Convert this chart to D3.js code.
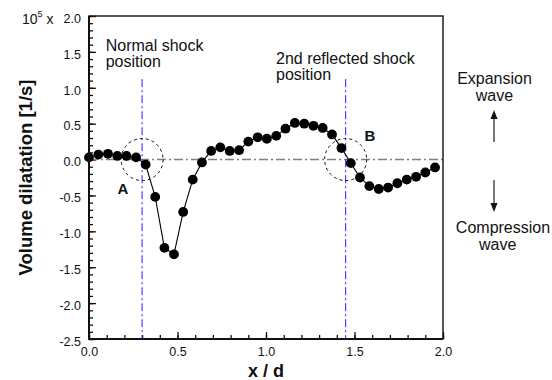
<!DOCTYPE html>
<html>
<head>
<meta charset="utf-8">
<script src="https://cdn.jsdelivr.net/npm/d3@7"></script>
<style>
body { margin: 0; background: #fff; }
text { font-family: "Liberation Sans", Arial, sans-serif; fill: #111; }
</style>
</head>
<body>
<div id="chart"></div>
<script>
// x / d positions of the samples
var xPos = [0.00, 0.053, 0.107, 0.16, 0.212, 0.266, 0.32, 0.374, 0.426, 0.48,
            0.532, 0.586, 0.638, 0.69, 0.742, 0.795, 0.848, 0.90, 0.953, 1.005,
            1.058, 1.11, 1.163, 1.216, 1.268, 1.32, 1.373, 1.426, 1.479, 1.531,
            1.584, 1.637, 1.69, 1.742, 1.795, 1.848, 1.90, 1.955];
// volume dilatation, units of 10^5 1/s
var dilatation = [0.03, 0.07, 0.08, 0.05, 0.05, 0.03, -0.07, -0.52, -1.23, -1.32,
                  -0.73, -0.28, -0.04, 0.12, 0.17, 0.12, 0.13, 0.25, 0.31, 0.29,
                  0.33, 0.43, 0.51, 0.50, 0.47, 0.44, 0.35, 0.16, -0.05, -0.25,
                  -0.37, -0.41, -0.39, -0.33, -0.28, -0.24, -0.18, -0.11];
var xTicks = [0, 0.5, 1.0, 1.5, 2.0];
var yTicks = [-2.5, -2.0, -1.5, -1.0, -0.5, 0, 0.5, 1.0, 1.5, 2.0];
var shockPos = [0.3, 1.45];
var shockLabels = [["Normal shock", "position"], ["2nd reflected shock", "position"]];
var circleLabels = ["A", "B"];

var width = 552, height = 380;
var x = d3.scaleLinear().domain([0, 2]).range([89, 443]);
var y = d3.scaleLinear().domain([-2.5, 2]).range([339, 16]);

var svg = d3.select("#chart")
    .append("svg")
    .attr("width", width)
    .attr("height", height);

var fmt = function(d) { return d.toFixed(1); };

// minor ticks
svg.append("g")
    .attr("transform", "translate(89,0)")
    .call(d3.axisLeft(y).tickValues(d3.range(-25, 21).map(function(i) { return i / 10; }))
        .tickSize(-4).tickFormat(""))
    .call(function(g) { g.select(".domain").remove(); });
svg.append("g")
    .attr("transform", "translate(0,339)")
    .call(d3.axisBottom(x).tickValues(d3.range(0, 21).map(function(i) { return i / 10; }))
        .tickSize(-4).tickFormat(""))
    .call(function(g) { g.select(".domain").remove(); });

// major ticks + labels
var yAxis = svg.append("g")
    .attr("transform", "translate(89,0)")
    .call(d3.axisLeft(y).tickValues(yTicks).tickSize(-7).tickPadding(8).tickFormat(fmt));
yAxis.select(".domain").remove();
yAxis.selectAll("text").attr("dy", "0.5em").style("font-size", "12.5px");

var xAxis = svg.append("g")
    .attr("transform", "translate(0,339)")
    .call(d3.axisBottom(x).tickValues(xTicks).tickSize(-7).tickPadding(8).tickFormat(fmt));
xAxis.select(".domain").remove();
xAxis.selectAll("text").style("font-size", "12.5px");

svg.selectAll(".tick line").attr("stroke", "#111").attr("stroke-width", 1.3);

// zero line
svg.append("line")
    .attr("x1", x(0)).attr("x2", x(2))
    .attr("y1", y(0)).attr("y2", y(0))
    .attr("stroke", "#808080")
    .attr("stroke-width", 1.6)
    .attr("stroke-dasharray", "9,3,2,3");

// shock positions
svg.selectAll(".shock")
    .data(shockPos)
    .enter()
    .append("line")
    .attr("class", "shock")
    .attr("x1", function(d) { return x(d); })
    .attr("x2", function(d) { return x(d); })
    .attr("y1", y(1.12))
    .attr("y2", y(-2.5))
    .attr("stroke", "#2020ff")
    .attr("stroke-width", 1)
    .attr("stroke-dasharray", "8,3,2,3");

svg.selectAll(".ring")
    .data(shockPos)
    .enter()
    .append("circle")
    .attr("class", "ring")
    .attr("cx", function(d) { return x(d); })
    .attr("cy", y(0))
    .attr("r", 21)
    .attr("fill", "none")
    .attr("stroke", "#111")
    .attr("stroke-width", 1)
    .attr("stroke-dasharray", "3,3");

// data
var pts = xPos.map(function(d, i) { return [d, dilatation[i]]; });
svg.append("path")
    .datum(pts)
    .attr("fill", "none")
    .attr("stroke", "#000")
    .attr("stroke-width", 1.1)
    .attr("d", d3.line()
        .x(function(d) { return x(d[0]); })
        .y(function(d) { return y(d[1]); }));

svg.selectAll(".pt")
    .data(pts)
    .enter()
    .append("circle")
    .attr("class", "pt")
    .attr("cx", function(d) { return x(d[0]); })
    .attr("cy", function(d) { return y(d[1]); })
    .attr("r", 4.9)
    .attr("fill", "#000");

// frame
svg.append("rect")
    .attr("x", 89).attr("y", 16)
    .attr("width", 354).attr("height", 323)
    .attr("fill", "none")
    .attr("stroke", "#111")
    .attr("stroke-width", 1.4);
svg.append("path")
    .attr("d", "M89,16V339H443")
    .attr("fill", "none")
    .attr("stroke", "#111")
    .attr("stroke-width", 2);

// annotations
var ann = [[105.7, 51], [276, 64.3]];
shockLabels.forEach(function(lines, i) {
    var t = svg.append("text")
        .attr("x", ann[i][0])
        .attr("y", ann[i][1])
        .style("font-size", "16px");
    lines.forEach(function(s, j) {
        t.append("tspan").attr("x", ann[i][0]).attr("dy", j ? 16 : 0).text(s);
    });
});

svg.append("text").attr("x", 123).attr("y", 194).attr("text-anchor", "middle")
    .style("font-size", "15px").style("font-weight", "bold").text(circleLabels[0]);
svg.append("text").attr("x", 370).attr("y", 140.5).attr("text-anchor", "middle")
    .style("font-size", "15px").style("font-weight", "bold").text(circleLabels[1]);

// exponent label
var ex = svg.append("text").attr("x", 22).attr("y", 24).style("font-size", "14px");
ex.append("tspan").text("10");
ex.append("tspan").attr("dy", -7).style("font-size", "9px").text("5");
ex.append("tspan").attr("dy", 7).text(" x");

// axis titles
svg.append("text")
    .attr("transform", "translate(32,177.5) rotate(-90)")
    .attr("text-anchor", "middle")
    .style("font-size", "18.5px")
    .style("font-weight", "bold")
    .text("Volume dilatation [1/s]");
svg.append("text")
    .attr("x", 266).attr("y", 377)
    .attr("text-anchor", "middle")
    .style("font-size", "18px")
    .style("font-weight", "bold")
    .text("x / d");

// expansion / compression arrows
var side = svg.append("g").style("font-size", "16px");
side.append("text").attr("x", 494.5).attr("y", 83.5).attr("text-anchor", "middle").text("Expansion");
side.append("text").attr("x", 494.5).attr("y", 100.5).attr("text-anchor", "middle").text("wave");
side.append("text").attr("x", 503).attr("y", 232.5).attr("text-anchor", "middle").text("Compression");
side.append("text").attr("x", 497.7).attr("y", 249.5).attr("text-anchor", "middle").text("wave");

side.append("line").attr("x1", 494).attr("x2", 494).attr("y1", 142).attr("y2", 117)
    .attr("stroke", "#333").attr("stroke-width", 1.3);
side.append("path").attr("d", "M494,110L490.5,119L497.5,119Z").attr("fill", "#111");
side.append("line").attr("x1", 494).attr("x2", 494).attr("y1", 180).attr("y2", 204)
    .attr("stroke", "#333").attr("stroke-width", 1.3);
side.append("path").attr("d", "M494,212L490.5,203L497.5,203Z").attr("fill", "#111");
</script>
</body>
</html>
